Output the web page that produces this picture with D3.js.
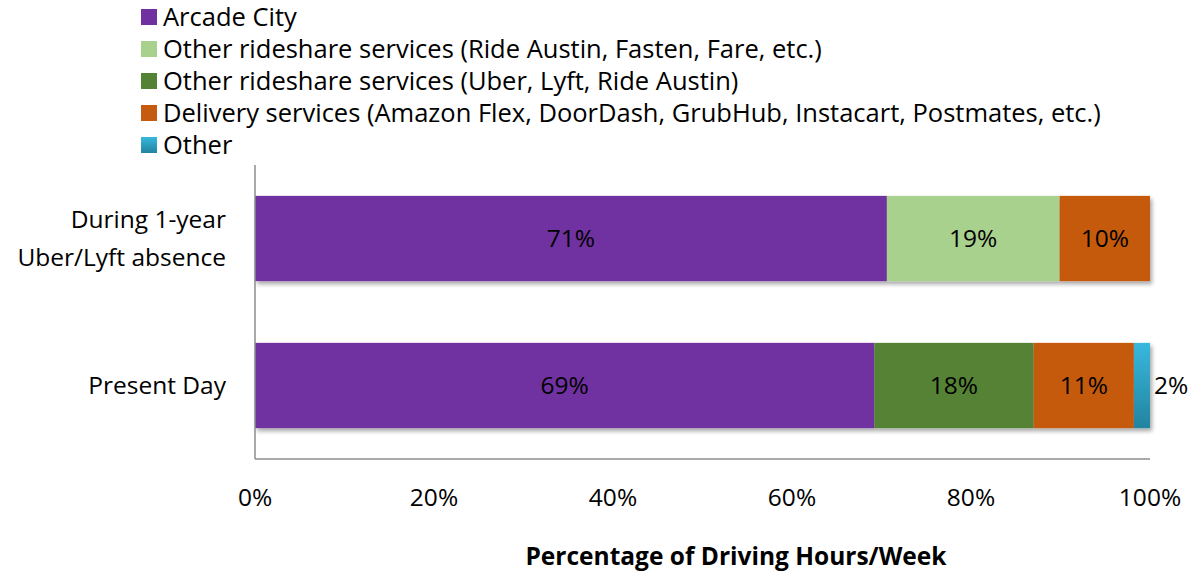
<!DOCTYPE html>
<html>
<head>
  <meta charset="utf-8">
  <title>Driving Hours per Week</title>
  <script src="https://d3js.org/d3.v7.min.js"></script>
  <style>
    body { margin: 0; background: #fff; }
    text { font-family: "Open Sans", Lato, sans-serif; fill: #000; }
  </style>
</head>
<body>
  <div id="chart"></div>
  <script>
    // data
    var categories = ["During 1-year\nUber/Lyft absence", "Present Day"];
    var seriesNames = [
      "Arcade City",
      "Other rideshare services (Ride Austin, Fasten, Fare, etc.)",
      "Other rideshare services (Uber, Lyft, Ride Austin)",
      "Delivery services (Amazon Flex, DoorDash, GrubHub, Instacart, Postmates, etc.)",
      "Other"
    ];
    var absenceValues = [70.6, 19.3, 0, 10.1, 0];
    var presentValues = [69.2, 0, 17.8, 11.2, 1.8];
    var tickValues = [0, 20, 40, 60, 80, 100];
    var colors = ["#7030a0", "#a9d18e", "#548235", "#c55a11", "url(#otherGrad)"];

    var svg = d3.select("#chart")
      .append("svg")
      .attr("width", 1196)
      .attr("height", 571);

    var defs = svg.append("defs");
    var grad = defs.append("linearGradient")
      .attr("id", "otherGrad")
      .attr("x1", 0).attr("y1", 0).attr("x2", 0).attr("y2", 1);
    grad.append("stop").attr("offset", "0%").attr("stop-color", "#38b8de");
    grad.append("stop").attr("offset", "100%").attr("stop-color", "#22849f");

    var shadow = defs.append("filter")
      .attr("id", "shadow")
      .attr("x", "-5%").attr("y", "-20%").attr("width", "110%").attr("height", "150%");
    shadow.append("feDropShadow")
      .attr("dx", 2).attr("dy", 3).attr("stdDeviation", 2)
      .attr("flood-color", "#000").attr("flood-opacity", 0.35);

    var margin = {top: 165, left: 255, right: 46, bottom: 112};
    var width = 1196 - margin.left - margin.right;
    var height = 571 - margin.top - margin.bottom;
    var fontSize = "24.5px";

    var x = d3.scaleLinear().domain([0, 100]).range([0, width]);
    var y = d3.scaleBand().domain(categories).range([0, height]).paddingInner(0.42).paddingOuter(0.21);

    var g = svg.append("g")
      .attr("transform", "translate(" + margin.left + "," + margin.top + ")");

    // stacked rows
    var rows = [absenceValues, presentValues];
    var stacked = [];
    rows.forEach(function(vals, i) {
      var start = 0;
      vals.forEach(function(v, j) {
        if (v > 0) stacked.push({cat: categories[i], series: j, x0: start, x1: start + v, v: v});
        start += v;
      });
    });

    var barGroups = g.selectAll(".row")
      .data(categories)
      .enter()
      .append("g")
      .attr("class", "row")
      .attr("filter", "url(#shadow)");

    barGroups.selectAll("rect")
      .data(function(c) { return stacked.filter(function(d) { return d.cat === c; }); })
      .enter()
      .append("rect")
      .attr("x", function(d) { return x(d.x0); })
      .attr("y", function(d) { return y(d.cat); })
      .attr("width", function(d) { return x(d.x1) - x(d.x0); })
      .attr("height", y.bandwidth())
      .attr("fill", function(d) { return colors[d.series]; });

    // value labels
    g.selectAll(".val")
      .data(stacked)
      .enter()
      .append("text")
      .attr("class", "val")
      .attr("x", function(d) { return d.v < 5 ? x(d.x1) + 4 : (x(d.x0) + x(d.x1)) / 2; })
      .attr("y", function(d) { return y(d.cat) + y.bandwidth() / 2; })
      .attr("dy", "0.35em")
      .attr("text-anchor", function(d) { return d.v < 5 ? "start" : "middle"; })
      .style("font-size", fontSize)
      .text(function(d) { return Math.round(d.v) + "%"; });

    // axes lines
    g.append("line")
      .attr("x1", 0).attr("x2", 0).attr("y1", 0).attr("y2", height)
      .attr("stroke", "#8c8c8c").attr("stroke-width", 1.5);
    g.append("line")
      .attr("x1", 0).attr("x2", width).attr("y1", height).attr("y2", height)
      .attr("stroke", "#8c8c8c").attr("stroke-width", 1.5);

    // x tick labels
    g.selectAll(".tick-label")
      .data(tickValues)
      .enter()
      .append("text")
      .attr("class", "tick-label")
      .attr("x", function(d) { return x(d); })
      .attr("y", height + 47)
      .attr("text-anchor", "middle")
      .style("font-size", fontSize)
      .text(function(d) { return d + "%"; });

    // category labels
    var catLabels = g.selectAll(".cat")
      .data(categories)
      .enter()
      .append("text")
      .attr("class", "cat")
      .attr("text-anchor", "end")
      .style("font-size", fontSize)
      .attr("transform", function(c) { return "translate(-29," + (y(c) + y.bandwidth() / 2) + ")"; });
    catLabels.each(function(c) {
      var lines = c.split("\n");
      var t = d3.select(this);
      lines.forEach(function(l, i) {
        t.append("tspan")
          .attr("x", 0)
          .attr("y", (i - (lines.length - 1) / 2) * 38)
          .attr("dy", "0.35em")
          .text(l);
      });
    });

    // axis title (sits a little right of the plot centre in the original)
    svg.append("text")
      .attr("x", 736)
      .attr("y", 565)
      .attr("text-anchor", "middle")
      .style("font-size", "24.5px")
      .style("font-weight", "bold")
      .text("Percentage of Driving Hours/Week");

    // legend
    var legend = svg.selectAll(".legend")
      .data(seriesNames)
      .enter()
      .append("g")
      .attr("class", "legend")
      .attr("transform", function(d, i) { return "translate(141," + (17 + i * 32) + ")"; });
    legend.append("rect")
      .attr("x", 0).attr("y", -8).attr("width", 16).attr("height", 16)
      .attr("fill", function(d, i) { return colors[i]; });
    legend.append("text")
      .attr("x", 22)
      .attr("dy", "0.35em")
      .style("font-size", "25.5px")
      .text(function(d) { return d; });
  </script>
</body>
</html>
